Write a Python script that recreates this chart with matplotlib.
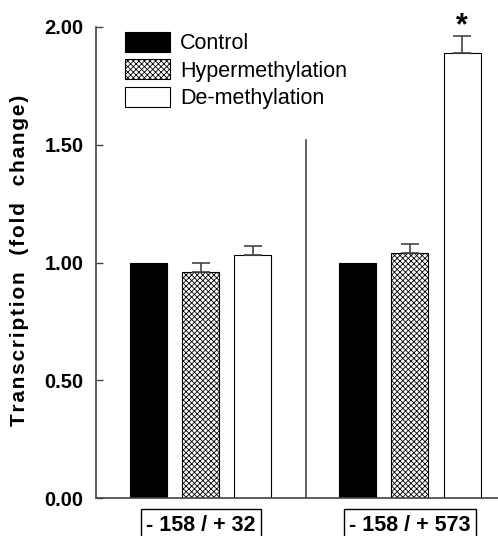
import matplotlib
matplotlib.use('Agg')
import matplotlib.pyplot as plt
import numpy as np

plt.rcParams['font.family'] = ['Liberation Sans', 'DejaVu Sans']
plt.rcParams['hatch.linewidth'] = 0.6

# datos
grupos = ['- 158 / + 32', '- 158 / + 573']
series = ['Control', 'Hypermethylation', 'De-methylation']
control = [1.00, 1.00]
hyper = [0.96, 1.04]
demet = [1.03, 1.89]
err_control = [0.0, 0.0]
err_hyper = [0.04, 0.04]
err_demet = [0.04, 0.07]

fig = plt.figure(figsize=(4.98, 5.36), dpi=100)
ax = fig.add_axes([96/498, 38/536, 402/498, 471/536])

x = np.arange(len(grupos))
w = 0.177
off = 0.249
gris = '#444444'

ax.bar(x - off, control, w, color='black', edgecolor='black', linewidth=0.8, label=series[0])
ax.bar(x, hyper, w, color='white', edgecolor='black', hatch='xxxxxx', linewidth=0.8, label=series[1])
ax.bar(x + off, demet, w, color='white', edgecolor='black', linewidth=0.8, label=series[2])

for dx, vals, errs in [(0, hyper, err_hyper), (off, demet, err_demet)]:
    ax.errorbar(x + dx, vals, yerr=[np.zeros(len(errs)), errs], fmt='none',
                ecolor=gris, elinewidth=1.2, capsize=6.5, capthick=1.2, clip_on=False)

# asterisco
ax.text(x[1] + off, demet[1] + err_demet[1] + 0.045, '*', ha='center', va='center',
        fontsize=22, fontweight='bold', clip_on=False)

# linea separadora
ax.plot([0.502, 0.502], [0, 1.52], color=gris, linewidth=1.2)

ax.set_xlim(-0.502, 1.421)
ax.set_ylim(0, 2.0)
ax.set_yticks([0, 0.5, 1.0, 1.5, 2.0])
ax.set_yticklabels(['0.00', '0.50', '1.00', '1.50', '2.00'], fontsize=14.5, fontweight='bold')
ax.tick_params(axis='y', direction='in', length=5, width=1, color=gris, pad=9)
ax.set_xticks([])
for s in ['top', 'right']:
    ax.spines[s].set_visible(False)
for s in ['left', 'bottom']:
    ax.spines[s].set_color(gris)
    ax.spines[s].set_linewidth(1.2)

for xi, g in zip(x, grupos):
    ax.text(xi, -0.115, g, ha='center', va='center', fontsize=15.5, fontweight='bold',
            bbox=dict(boxstyle='square,pad=0.25', facecolor='white', edgecolor='black', linewidth=1))

# etiqueta con letras espaciadas
ylabel = '\u200a'.join('Transcription  (fold  change)')
fig.text(20/498, 1 - 260/536, ylabel, rotation=90, ha='center',
         va='center', fontsize=15, fontweight='bold')

ax.legend(loc='upper left', bbox_to_anchor=(0.072, 0.99), frameon=False, fontsize=15.5,
          handlelength=2.1, handleheight=1.07, handletextpad=0.47, labelspacing=0.23,
          borderaxespad=0, borderpad=0)

fig.savefig('out.png', dpi=100)
